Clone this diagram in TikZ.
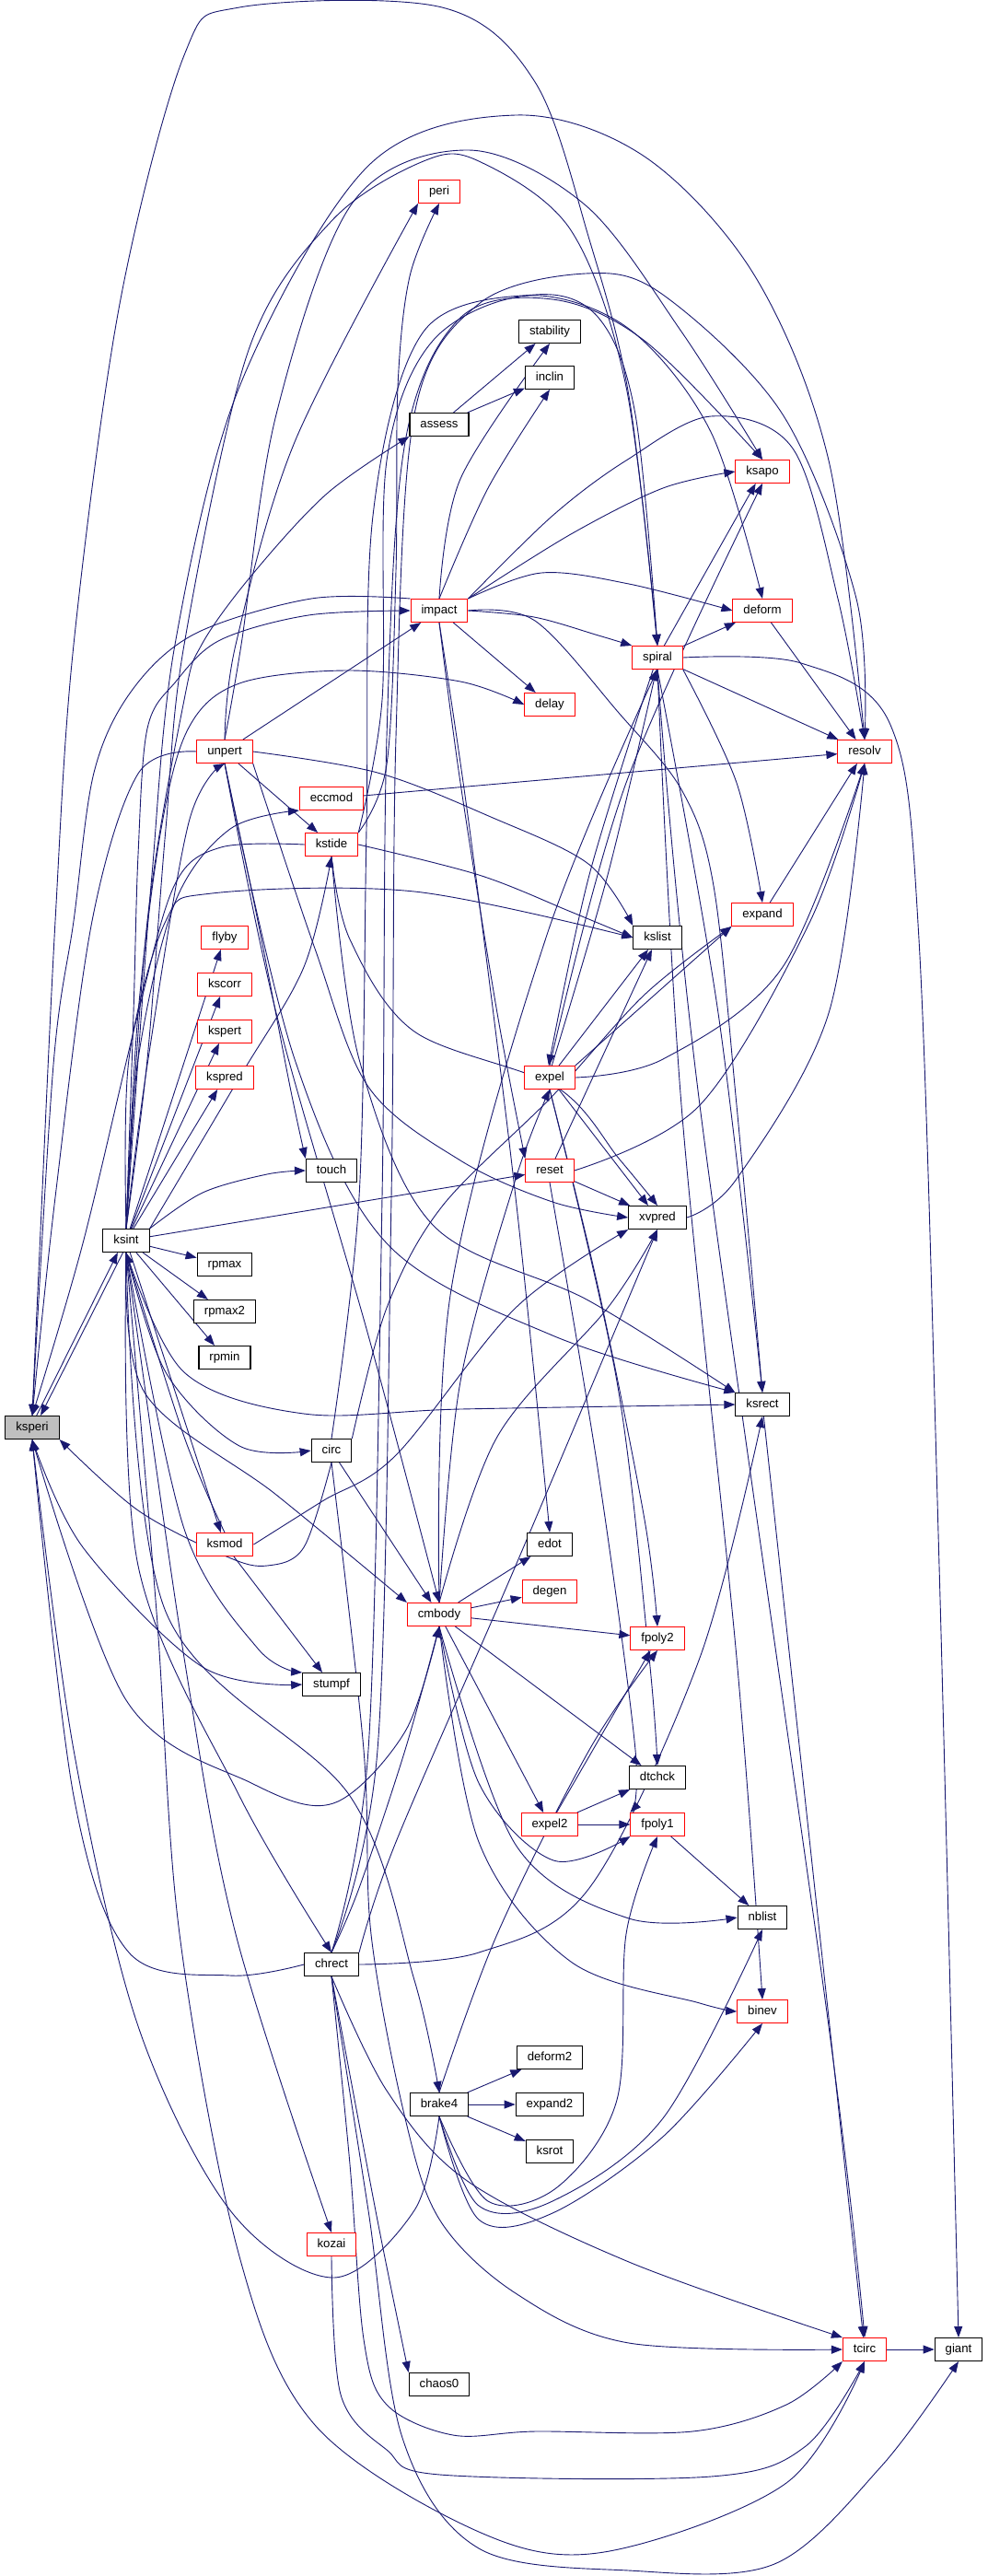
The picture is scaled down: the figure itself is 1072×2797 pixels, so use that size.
\documentclass[tikz,border=0pt]{standalone}
\usepackage{fontspec}
\setmainfont{Liberation Sans}
\usetikzlibrary{arrows.meta,backgrounds}
\definecolor{navyline}{RGB}{25,25,112}
\definecolor{boxgray}{RGB}{191,191,191}
\tikzset{
  fnbox/.style={draw=black,line width=1.1pt,fill=white,inner xsep=11.5pt,inner ysep=0pt,
    minimum height=25pt,text height=9.6pt,text depth=2.6pt,font=\fontsize{13.2}{15}\selectfont},
  hotbox/.style={fnbox,draw=red,line width=1pt},
  rootbox/.style={fnbox,fill=boxgray},
  call/.style={draw=navyline,line width=.9pt,-{Triangle[length=12pt,width=9pt]}},
  curvy/.style={smooth,tension=.55}
}
\begin{document}
\begin{tikzpicture}[x=1pt,y=-1pt]
\useasboundingbox (0,0) rectangle (1072,2797);
\node[rootbox] (ksperi) at (35,1550) {ksperi};
\foreach \n/\x/\y in {ksint/137/1347,rpmax/244/1373,rpmax2/244/1424,rpmin/244/1474,touch/360/1271,
  circ/360/1575,stumpf/360/1829,chrect/360/2133,assess/477/461,brake4/477/2285,chaos0/477/2589,
  stability/597/360,inclin/597/410,edot/597/1677,deform2/597/2234,expand2/597/2285,ksrot/597/2336,
  kslist/714/1018,xvpred/714/1322,dtchck/714/1930,ksrect/828/1525,nblist/828/2082,giant/1041/2551}
  \node[fnbox] (\n) at (\x,\y) {\n};
\foreach \n/\x/\y in {unpert/244/816,flyby/244/1018,kscorr/244/1069,kspert/244/1120,kspred/244/1170,
  ksmod/244/1677,eccmod/360/867,kstide/360/917,kozai/360/2437,peri/477/208,impact/477/663,
  cmbody/477/1753,delay/597/765,expel/597/1170,reset/597/1271,degen/597/1728,expel2/597/1981,
  spiral/714/714,fpoly2/714/1779,fpoly1/714/1981,ksapo/828/512,deform/828/663,expand/828/993,
  binev/828/2184,resolv/939/816,tcirc/939/2551}
  \node[hotbox] (\n) at (\x,\y) {\n};
\begin{scope}[on background layer]
\foreach \a/\b in {ksint/rpmax,ksint/rpmax2,ksint/rpmin,ksint/reset,ksint/ksmod,ksint/flyby,
  ksint/kscorr,ksint/kspert,ksint/kspred,assess/stability,assess/inclin,unpert/impact,unpert/kstide,
  eccmod/resolv,impact/delay,spiral/deform,spiral/resolv,spiral/ksapo,deform/resolv,expand/resolv,
  reset/xvpred,expel/xvpred,ksmod/stumpf,cmbody/degen,cmbody/edot,cmbody/fpoly2,cmbody/dtchck,
  cmbody/expel2,expel2/fpoly1,expel2/dtchck,expel2/fpoly2,fpoly1/nblist,brake4/deform2,
  brake4/expand2,brake4/ksrot,ksrect/tcirc,tcirc/giant,circ/cmbody,expel/kslist,reset/kslist}
  \draw[call] (\a) -- (\b);
\draw[call] (ksperi.70) -- (ksint.235);
\draw[call] (ksint.255) -- (ksperi.55);
\draw[call] plot[curvy] coordinates {(ksperi.north) (42,1380) (60,1000) (80,700) (130,330) (200,60) (260,8) (480,8) (581,89) (640,260) (683,430) (spiral.north)};
\draw[call] plot[curvy] coordinates {(ksint.north) (150,1150) (165,950) (190,700) (260,420) (400,180) (560,125) (700,170) (820,300) (900,500) (resolv.north)};
\draw[call] plot[curvy] coordinates {(unpert.north) (262,700) (300,450) (383,220) (509,163) (636,223) (740,360) (ksapo.north)};
\draw[call] plot[curvy] coordinates {(ksint.north) (160,1150) (180,900) (200,700) (270,380) (360,240) (460,175) (520,175) (620,250) (680,420) (spiral.north)};
\draw[call] plot[curvy] coordinates {(kstide.north east) (420,830) (430,620) (432,420) (445,300) (peri.south)};
\draw[call] plot[curvy] coordinates {(circ.north) (390,1300) (398,900) (405,560) (460,360) (581,320) (650,345) (690,450) (spiral.north)};
\draw[call] plot[curvy] coordinates {(chrect.north) (400,1900) (415,1300) (420,800) (440,480) (500,345) (600,325) (700,370) (ksapo.north)};
\draw[call] plot[curvy] coordinates {(chrect.north) (410,1900) (425,1300) (430,800) (450,450) (520,330) (636,297) (720,320) (850,450) (930,650) (resolv.north)};
\draw[call] plot[curvy] coordinates {(kstide.north east) (415,760) (420,500) (470,370) (574,321) (683,357) (772,469) (deform.north)};
\draw[call] plot[curvy] coordinates {(impact.north) (500,520) (stability.south)};
\draw[call] plot[curvy] coordinates {(impact.north) (530,530) (inclin.south)};
\draw[call] plot[curvy] coordinates {(impact.north east) (620,580) (720,530) (ksapo.west)};
\draw[call] plot[curvy] coordinates {(impact.north east) (600,560) (680,500) (772,452) (861,487) (910,650) (resolv.north)};
\draw[call] plot[curvy] coordinates {(impact.north east) (588,622) (683,634) (deform.west)};
\draw[call] plot[curvy] coordinates {(impact.east) (580,670) (650,690) (spiral.north west)};
\draw[call] plot[curvy] coordinates {(impact.south) (510,900) (560,1300) (edot.north)};
\draw[call] plot[curvy] coordinates {(impact.south) (500,850) (540,1100) (reset.north west)};
\draw[call] plot[curvy] coordinates {(impact.east) (581,674) (672,774) (741,859) (775,962) (800,1200) (ksrect.north)};
\draw[call] plot[curvy] coordinates {(ksint.north) (145,1100) (150,928) (160,791) (191,740) (239,695) (335,668) (impact.west)};
\draw[call] plot[curvy] coordinates {(impact.north west) (338,650) (212,688) (143,750) (102,839) (80,1000) (58,1156) (ksperi.north)};
\draw[call] plot[curvy] coordinates {(ksint.north) (160,1000) (200,760) (219,700) (273,625) (355,536) (assess.south west)};
\draw[call] plot[curvy] coordinates {(unpert.north) (256,700) (320,480) (peri.south west)};
\draw[call] plot[curvy] coordinates {(ksint.north) (150,1100) (175,900) (205,790) (260,742) (376,728) (500,740) (delay.west)};
\draw[call] plot[curvy] coordinates {(unpert.east) (410,839) (533,887) (639,938) (kslist.north west)};
\draw[call] plot[curvy] coordinates {(unpert.west) (150,840) (100,1000) (60,1300) (ksperi.north)};
\draw[call] plot[curvy] coordinates {(unpert.south) (280,1000) (315,1180) (touch.north west)};
\draw[call] plot[curvy] coordinates {(unpert.south) (300,1100) (400,1450) (cmbody.north)};
\draw[call] plot[curvy] coordinates {(unpert.south east) (342,1030) (400,1180) (500,1260) (600,1305) (xvpred.west)};
\draw[call] plot[curvy] coordinates {(unpert.south) (320,1150) (420,1350) (600,1450) (ksrect.north west)};
\draw[call] plot[curvy] coordinates {(ksint.north) (160,1156) (205,893) (unpert.south)};
\draw[call] plot[curvy] coordinates {(ksint.north) (150,1150) (190,980) (250,900) (eccmod.south west)};
\draw[call] plot[curvy] coordinates {(ksint.north east) (260,1170) (330,1050) (kstide.south)};
\draw[call] plot[curvy] coordinates {(ksint.north) (140,1150) (180,1000) (230,970) (450,968) (kslist.west)};
\draw[call] plot[curvy] coordinates {(ksint.north east) (220,1295) (290,1275) (touch.west)};
\draw[call] plot[curvy] coordinates {(ksint.south) (180,1490) (260,1570) (circ.west)};
\draw[call] plot[curvy] coordinates {(ksint.south) (200,1490) (330,1535) (500,1530) (ksrect.west)};
\draw[call] plot[curvy] coordinates {(ksint.south) (200,1660) (280,1790) (stumpf.north west)};
\draw[call] plot[curvy] coordinates {(ksint.south) (157,1512) (300,1623) (cmbody.north west)};
\draw[call] plot[curvy] coordinates {(ksint.south) (150,1700) (260,1950) (chrect.north)};
\draw[call] plot[curvy] coordinates {(ksint.south) (180,1750) (380,1950) (450,2150) (brake4.north)};
\draw[call] plot[curvy] coordinates {(ksint.south) (200,1800) (256,2100) (kozai.north)};
\draw[call] plot[curvy] coordinates {(ksint.south) (170,1750) (195,2100) (260,2450) (342,2633) (520,2749) (656,2771) (854,2696) (tcirc.south)};
\draw[call] plot[curvy] coordinates {(kstide.west) (240,920) (190,960) (150,1100) (90,1350) (ksperi.north)};
\draw[call] plot[curvy] coordinates {(kstide.east) (520,950) (620,990) (kslist.west)};
\draw[call] plot[curvy] coordinates {(kstide.south) (380,1020) (450,1120) (604,1180) (673,1259) (xvpred.north)};
\draw[call] plot[curvy] coordinates {(kstide.south) (390,1150) (470,1330) (639,1412) (ksrect.north west)};
\draw[call] plot[curvy] coordinates {(circ.south) (330,1680) (290,1700) (246,1690) (150,1640) (ksperi.south east)};
\draw[call] plot[curvy] coordinates {(circ.north east) (420,1420) (480,1310) (600,1190) (700,1080) (expand.south west)};
\draw[call] plot[curvy] coordinates {(circ.south) (395,1900) (403,2100) (440,2300) (478,2411) (560,2490) (683,2544) (tcirc.west)};
\draw[call] plot[curvy] coordinates {(ksmod.east) (350,1630) (430,1580) (560,1420) (xvpred.south west)};
\draw[call] plot[curvy] coordinates {(ksmod.north) (200,1560) (ksint.south)};
\draw[call] plot[curvy] coordinates {(ksperi.south) (90,1680) (220,1810) (stumpf.west)};
\draw[call] plot[curvy] coordinates {(cmbody.south) (440,1880) (362,1958) (273,1936) (137,1846) (ksperi.south)};
\draw[call] plot[curvy] coordinates {(cmbody.north) (540,1560) (660,1420) (xvpred.south)};
\draw[call] plot[curvy] coordinates {(cmbody.north) (500,1500) (560,1280) (expel.south)};
\draw[call] plot[curvy] coordinates {(cmbody.north) (490,1400) (595,1012) (spiral.south)};
\draw[call] plot[curvy] coordinates {(cmbody.south) (520,1936) (601,2020) (fpoly1.south west)};
\draw[call] plot[curvy] coordinates {(cmbody.south) (560,2003) (683,2083) (nblist.west)};
\draw[call] plot[curvy] coordinates {(cmbody.south) (520,2000) (620,2130) (760,2175) (binev.west)};
\draw[call] plot[curvy] coordinates {(chrect.west) (250,2145) (140,2120) (80,1950) (ksperi.south)};
\draw[call] plot[curvy] coordinates {(chrect.east) (520,2120) (640,2050) (760,1800) (ksrect.south)};
\draw[call] plot[curvy] coordinates {(chrect.north) (390,2050) (440,1900) (cmbody.south)};
\draw[call] plot[curvy] coordinates {(chrect.south) (410,2411) (chaos0.north west)};
\draw[call] plot[curvy] coordinates {(chrect.north east) (430,2000) (560,1700) (xvpred.south)};
\draw[call] plot[curvy] coordinates {(chrect.south) (420,2270) (506,2367) (683,2456) (tcirc.north west)};
\draw[call] plot[curvy] coordinates {(chrect.south) (380,2350) (395,2540) (420,2611) (492,2644) (581,2640) (752,2640) (854,2611) (tcirc.south west)};
\draw[call] plot[curvy] coordinates {(chrect.south) (400,2400) (437,2647) (520,2767) (683,2791) (841,2784) (957,2678) (giant.south)};
\draw[call] plot[curvy] coordinates {(kozai.south) (370,2600) (420,2660) (478,2687) (772,2689) (875,2656) (tcirc.south)};
\draw[call] plot[curvy] coordinates {(brake4.south) (450,2400) (362,2473) (250,2400) (150,2200) (80,1900) (ksperi.south)};
\draw[call] plot[curvy] coordinates {(brake4.south) (530,2390) (605,2375) (670,2280) (680,2100) (fpoly1.south)};
\draw[call] plot[curvy] coordinates {(brake4.south) (520,2395) (600,2390) (720,2300) (nblist.south)};
\draw[call] plot[curvy] coordinates {(brake4.south) (520,2410) (600,2403) (720,2320) (binev.south)};
\draw[call] plot[curvy] coordinates {(brake4.north) (540,2100) (640,1900) (fpoly2.south)};
\draw[call] plot[curvy] coordinates {(expel.80) (660,950) (spiral.265)};
\draw[call] plot[curvy] coordinates {(spiral.250) (640,950) (expel.95)};
\draw[call] plot[curvy] coordinates {(expel.north east) (700,1090) (expand.south west)};
\draw[call] plot[curvy] coordinates {(expel.east) (720,1150) (850,1050) (resolv.south)};
\draw[call] plot[curvy] coordinates {(expel.south) (650,1400) (700,1650) (fpoly2.north)};
\draw[call] plot[curvy] coordinates {(expel.south) (670,1500) (705,1800) (dtchck.north)};
\draw[call] plot[curvy] coordinates {(expel.north) (680,850) (ksapo.south)};
\draw[call] plot[curvy] coordinates {(reset.east) (760,1200) (880,1000) (resolv.south)};
\draw[call] plot[curvy] coordinates {(reset.south) (650,1600) (690,1900) (fpoly1.north west)};
\draw[call] plot[curvy] coordinates {(spiral.east) (870,720) (967,787) (998,1020) (1020,1700) (giant.north)};
\draw[call] plot[curvy] coordinates {(spiral.south) (760,1200) (900,2200) (tcirc.north)};
\draw[call] plot[curvy] coordinates {(spiral.south) (740,1200) (800,1800) (binev.north)};
\draw[call] plot[curvy] coordinates {(spiral.south) (780,1100) (ksrect.north)};
\draw[call] plot[curvy] coordinates {(spiral.south east) (800,850) (expand.north)};
\draw[call] plot[curvy] coordinates {(xvpred.east) (800,1280) (900,1100) (resolv.south)};
\end{scope}
\end{tikzpicture}
\end{document}
